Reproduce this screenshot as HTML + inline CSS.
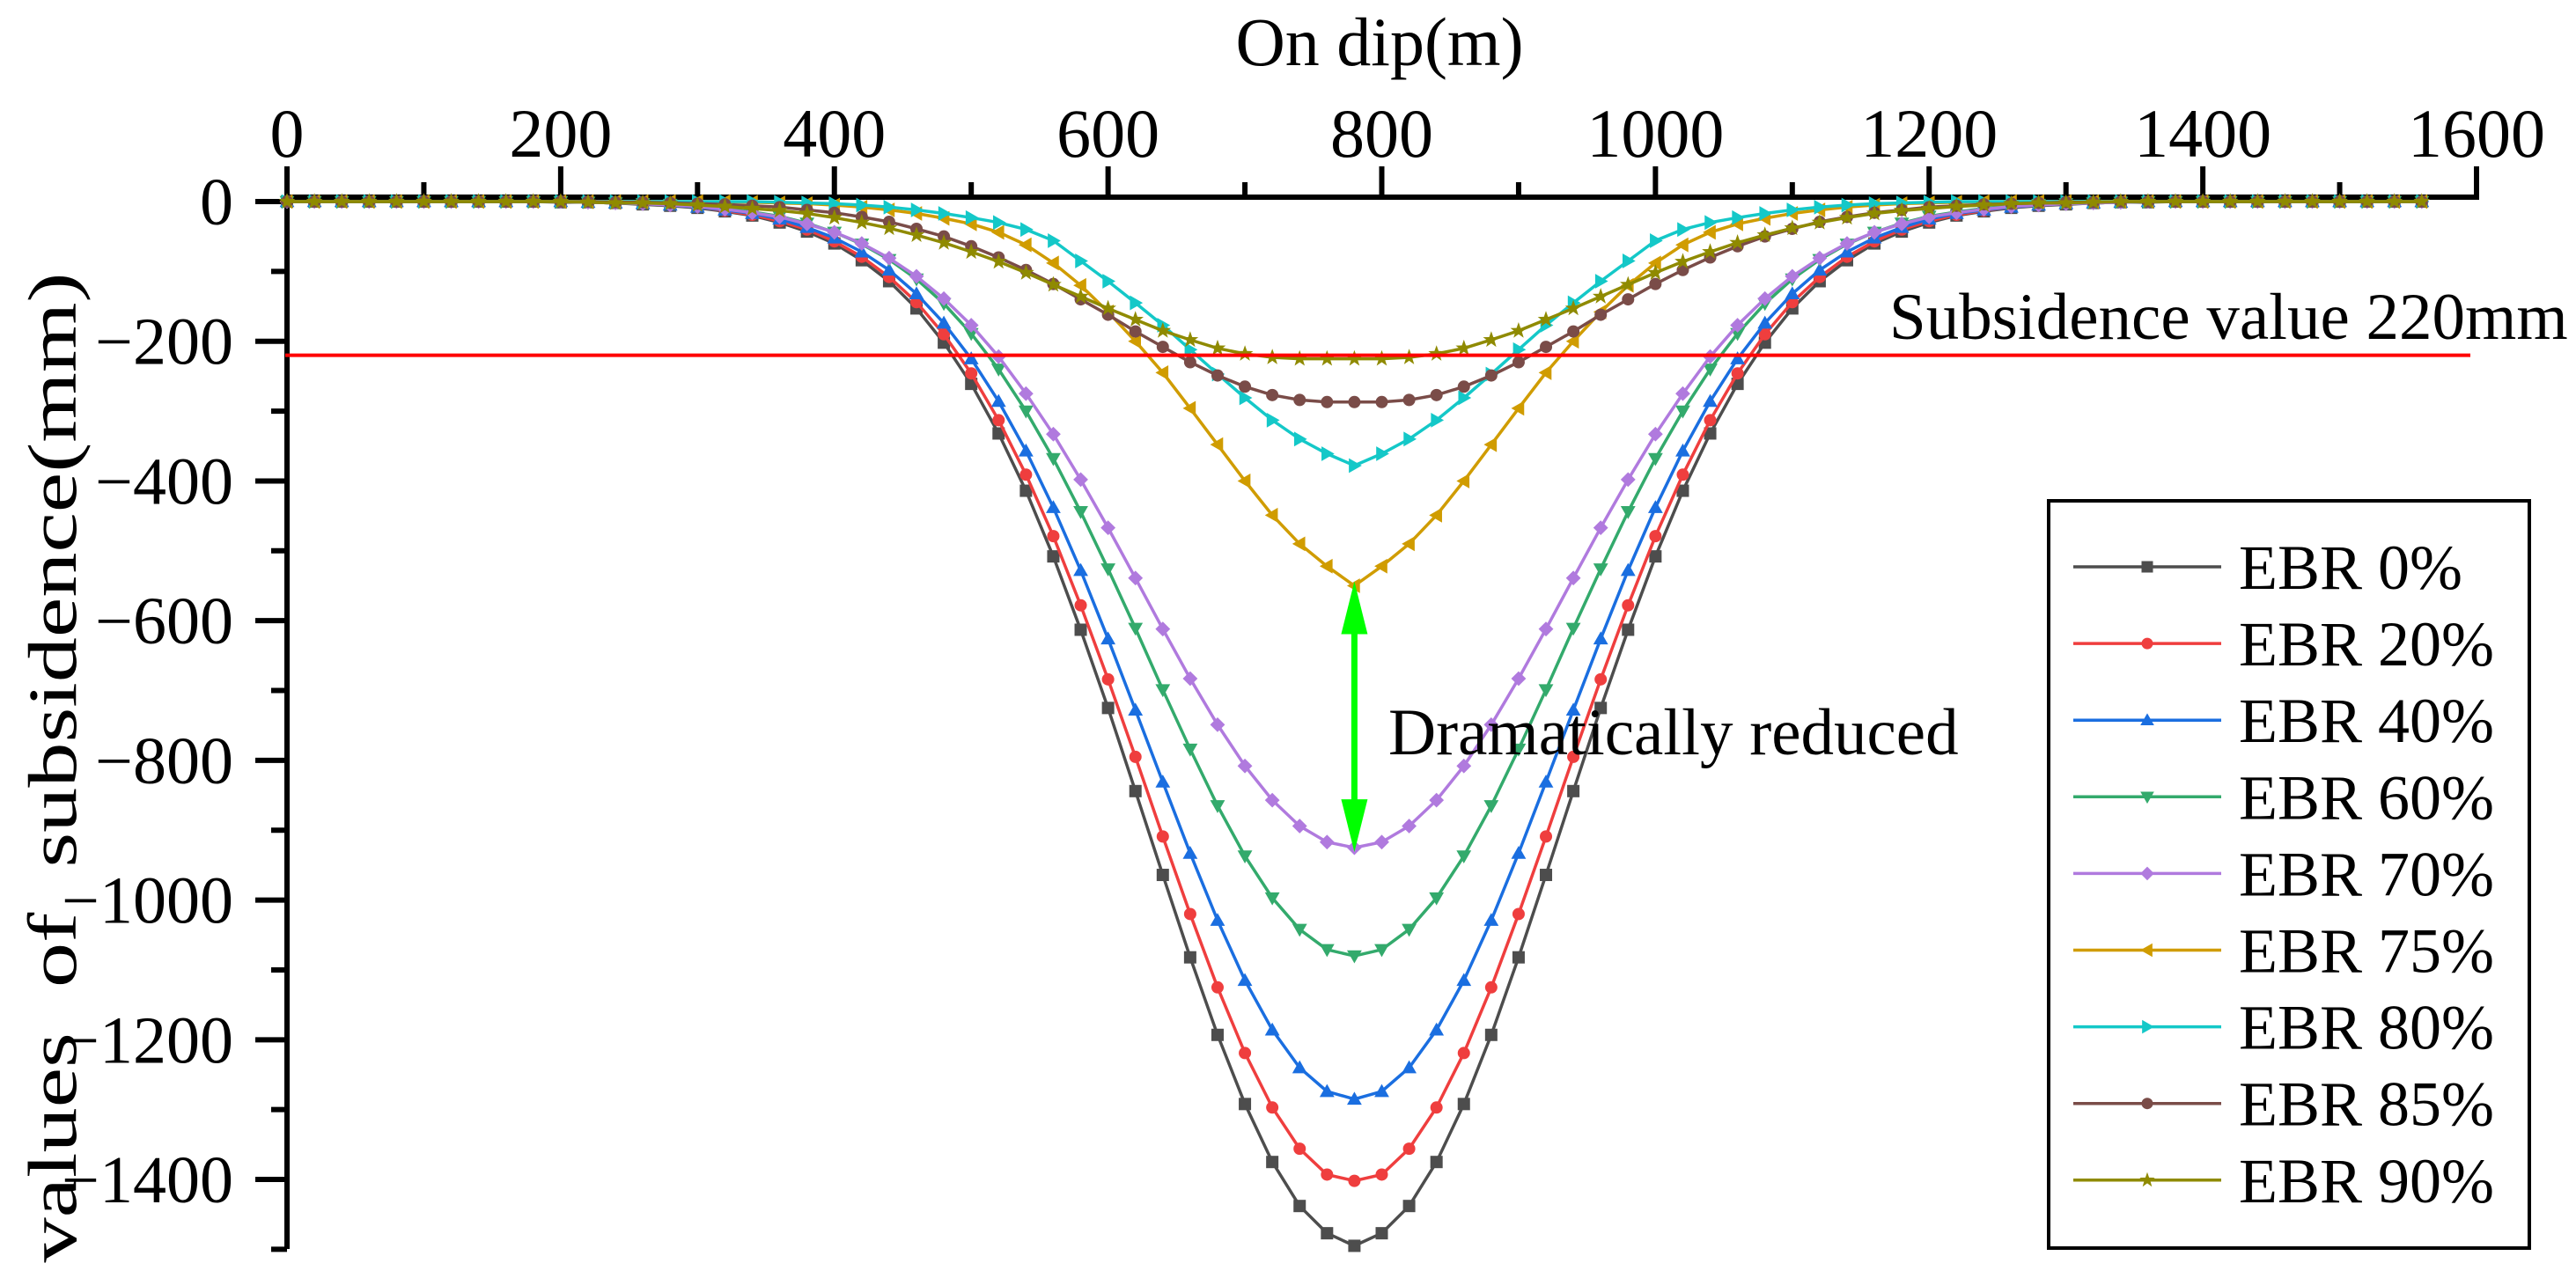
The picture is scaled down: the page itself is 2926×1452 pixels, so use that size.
<!DOCTYPE html>
<html><head><meta charset="utf-8"><style>
html,body{margin:0;padding:0;background:#fff;}
svg{display:block;font-family:"Liberation Serif",serif;}
</style></head><body>
<svg id="chart" width="2926" height="1452" viewBox="0 0 2926 1452" xmlns="http://www.w3.org/2000/svg">
<g id="axes"></g>
<g id="series"></g>
<g id="annot"></g>
<g id="legend"></g>
</svg>
<script>
const xStart = 0, xStep = 20;
const xTicks = [0,200,400,600,800,1000,1200,1400,1600];
const yTicks = [0,-200,-400,-600,-800,-1000,-1200,-1400];
const seriesNames = ["EBR 0%","EBR 20%","EBR 40%","EBR 60%","EBR 70%","EBR 75%","EBR 80%","EBR 85%","EBR 90%"];
const seriesColors = ["#4d4d4d","#ef3e3e","#1a6ee0","#33aa6c","#b07ade","#d09c00","#14c8c8","#7a4c48","#8f8a00"];
const seriesMarkers = ["square","circle","up","down","diamond","left","right","hex","star"];
const ebr0  = [0,0,0,0,0,0,0,0,0,0,-1,-1,-2,-4,-6,-9,-14,-20,-30,-43,-60,-84,-114,-153,-202,-261,-332,-414,-508,-613,-725,-844,-964,-1082,-1193,-1292,-1375,-1438,-1477,-1495,-1477,-1438,-1375,-1292,-1193,-1082,-964,-844,-725,-613,-508,-414,-332,-261,-202,-153,-114,-84,-60,-43,-30,-20,-14,-9,-6,-4,-2,-1,-1,0,0,0,0,0,0,0,0,0,0];
const ebr20 = [0,0,0,0,0,0,0,0,0,0,0,-1,-2,-3,-5,-8,-13,-19,-28,-40,-57,-79,-108,-144,-190,-246,-313,-391,-479,-578,-684,-795,-909,-1020,-1125,-1219,-1297,-1356,-1393,-1402,-1393,-1356,-1297,-1219,-1125,-1020,-909,-795,-684,-578,-479,-391,-313,-246,-190,-144,-108,-79,-57,-40,-28,-19,-13,-8,-5,-3,-2,-1,0,0,0,0,0,0,0,0,0,0,0];
const ebr40 = [0,0,0,0,0,0,0,0,0,0,0,-1,-2,-3,-5,-8,-12,-17,-25,-37,-52,-72,-98,-132,-174,-225,-286,-357,-438,-528,-626,-728,-831,-933,-1029,-1115,-1186,-1240,-1274,-1285,-1274,-1240,-1186,-1115,-1029,-933,-831,-728,-626,-528,-438,-357,-286,-225,-174,-132,-98,-72,-52,-37,-25,-17,-12,-8,-5,-3,-2,-1,0,0,0,0,0,0,0,0,0,0,0];
const ebr60 = [0,0,0,0,0,0,0,0,0,0,0,-1,-2,-3,-4,-6,-10,-15,-21,-31,-44,-61,-83,-111,-146,-189,-240,-300,-368,-444,-526,-611,-699,-784,-865,-937,-997,-1042,-1071,-1080,-1071,-1042,-997,-937,-865,-784,-699,-611,-526,-444,-368,-300,-240,-189,-146,-111,-83,-61,-44,-31,-21,-15,-10,-6,-4,-3,-2,-1,0,0,0,0,0,0,0,0,0,0,0];
const ebr70 = [0,0,0,0,0,0,0,0,0,0,0,-1,-2,-3,-5,-7,-11,-16,-22,-32,-44,-60,-81,-107,-139,-177,-222,-275,-333,-398,-467,-539,-612,-683,-749,-808,-857,-894,-917,-925,-917,-894,-857,-808,-749,-683,-612,-539,-467,-398,-333,-275,-222,-177,-139,-107,-81,-60,-44,-32,-22,-16,-11,-7,-5,-3,-2,-1,0,0,0,0,0,0,0,0,0,0,0];
const ebr75 = [0,0,0,0,0,0,0,0,0,0,0,0,0,0,0,0,0,-1,-2,-3,-5,-8,-12,-17,-24,-32,-44,-62,-88,-120,-158,-200,-245,-296,-348,-400,-449,-490,-522,-550,-522,-490,-449,-400,-348,-296,-245,-200,-158,-120,-88,-62,-44,-32,-24,-17,-12,-8,-5,-3,-2,-1,0,0,0,0,0,0,0,0,0,0,0,0,0,0,0,0,0];
const ebr80 = [0,0,0,0,0,0,0,0,0,0,0,0,0,0,0,0,0,0,-1,-2,-3,-5,-8,-12,-17,-23,-30,-40,-56,-85,-114,-145,-177,-212,-247,-281,-313,-340,-361,-378,-361,-340,-313,-281,-247,-212,-177,-145,-114,-85,-56,-40,-30,-23,-17,-12,-8,-5,-3,-2,-1,0,0,0,0,0,0,0,0,0,0,0,0,0,0,0,0,0,0];
const ebr85 = [0,0,0,0,0,0,0,0,0,0,0,0,-1,-1,-2,-3,-4,-6,-8,-12,-16,-22,-29,-39,-50,-64,-80,-98,-118,-140,-162,-186,-208,-230,-249,-265,-277,-284,-287,-287,-287,-284,-277,-265,-249,-230,-208,-186,-162,-140,-118,-98,-80,-64,-50,-39,-29,-22,-16,-12,-8,-6,-4,-3,-2,-1,-1,0,0,0,0,0,0,0,0,0,0,0,0];
const ebr90 = [0,0,0,0,0,0,0,0,0,0,0,-1,-2,-2,-3,-5,-7,-10,-13,-17,-23,-30,-38,-48,-59,-72,-86,-102,-119,-136,-153,-169,-185,-198,-210,-218,-223,-225,-225,-225,-225,-223,-218,-210,-198,-185,-169,-153,-136,-119,-102,-86,-72,-59,-48,-38,-30,-23,-17,-13,-10,-7,-5,-3,-2,-2,-1,0,0,0,0,0,0,0,0,0,0,0,0];
const seriesValues = [ebr0,ebr20,ebr40,ebr60,ebr70,ebr75,ebr80,ebr85,ebr90];
const thresholdValue = -220;
const arrowFrom = -550, arrowTo = -925, arrowX = 780;

const NS="http://www.w3.org/2000/svg";
const X0=326, X1=2813, XMIN=0, XMAX=1600;
const Y0=229, PERMM=0.7936;
function sx(v){return X0+(v-XMIN)/(XMAX-XMIN)*(X1-X0);}
function sy(v){return Y0-v*PERMM;}
function mk(tag,attrs,parent){const e=document.createElementNS(NS,tag);for(const k in attrs)e.setAttribute(k,attrs[k]);parent.appendChild(e);return e;}
const axes=document.getElementById('axes');
let e=mk('line',{x1:323,y1:224,x2:2816,y2:224,stroke:'#000','stroke-width':6},axes);


e=mk('line',{x1:326,y1:189,x2:326,y2:1419,stroke:'#000','stroke-width':6},axes);


for(let v=0;v<=1600;v+=100){
  const major=v%200===0;
  e=mk('line',{x1:sx(v),y1:major?189:207,x2:sx(v),y2:224,stroke:'#000','stroke-width':6},axes);
  
  
}
xTicks.forEach(v=>{
  e=mk('text',{x:sx(v),y:178,'font-size':78,'text-anchor':'middle'},axes);
  e.textContent=v;
  
  
});
for(let v=0;v>=-1500;v-=100){
  const major=v%200===0;
  e=mk('line',{x1:major?290:308,y1:sy(v),x2:326,y2:sy(v),stroke:'#000','stroke-width':6},axes);
  
  
}
yTicks.forEach(v=>{
  e=mk('text',{x:265,y:sy(v)+26,'font-size':76,'text-anchor':'end'},axes);
  e.textContent=v===0?'0':'\u2212'+Math.abs(v);
  
  
});
e=mk('text',{x:1567,y:74,'font-size':78,'text-anchor':'middle'},axes);
e.textContent='On dip(m)';


e=mk('text',{x:0,y:0,'font-size':78,'text-anchor':'middle',transform:'translate(86,872) rotate(-90)',textLength:1125,lengthAdjust:'spacingAndGlyphs'},axes);
e.textContent='values\u00a0\u00a0of\u00a0\u00a0subsidence(mm)';



function marker(type,x,y,s,color,parent){
  let el;
  if(type==='square') el=mk('rect',{x:x-s/2,y:y-s/2,width:s,height:s,fill:color},parent);
  else if(type==='circle'||type==='hex') el=mk('circle',{cx:x,cy:y,r:s/2,fill:color},parent);
  else if(type==='diamond') el=mk('polygon',{points:`${x},${y-s*0.6} ${x+s*0.6},${y} ${x},${y+s*0.6} ${x-s*0.6},${y}`,fill:color},parent);
  else if(type==='up') el=mk('polygon',{points:`${x},${y-s*0.6} ${x+s*0.6},${y+s*0.45} ${x-s*0.6},${y+s*0.45}`,fill:color},parent);
  else if(type==='down') el=mk('polygon',{points:`${x},${y+s*0.6} ${x+s*0.6},${y-s*0.45} ${x-s*0.6},${y-s*0.45}`,fill:color},parent);
  else if(type==='left') el=mk('polygon',{points:`${x-s*0.6},${y} ${x+s*0.45},${y-s*0.6} ${x+s*0.45},${y+s*0.6}`,fill:color},parent);
  else if(type==='right') el=mk('polygon',{points:`${x+s*0.6},${y} ${x-s*0.45},${y-s*0.6} ${x-s*0.45},${y+s*0.6}`,fill:color},parent);
  else {let p=[];for(let i=0;i<10;i++){const r=i%2?s*0.28:s*0.7;const a=-Math.PI/2+i*Math.PI/5;p.push((x+r*Math.cos(a)).toFixed(1)+','+(y+r*Math.sin(a)).toFixed(1));}
    el=mk('polygon',{points:p.join(' '),fill:color},parent);}
  return el;
}
const sg=document.getElementById('series');
seriesValues.forEach((vals,i)=>{
  const g=mk('g',{},sg);
  
  
  const pts=vals.map((v,j)=>sx(xStart+j*xStep).toFixed(1)+','+sy(v).toFixed(1)).join(' ');
  const pl=mk('polyline',{points:pts,fill:'none',stroke:seriesColors[i],'stroke-width':3.5},g);
  
  
  vals.forEach((v,j)=>{
    const m=marker(seriesMarkers[i],sx(xStart+j*xStep),sy(v),14,seriesColors[i],g);
    
    
  });
});
const an=document.getElementById('annot');
e=mk('line',{x1:324,y1:sy(thresholdValue),x2:2806,y2:sy(thresholdValue),stroke:'#ff0000','stroke-width':4},an);


e=mk('text',{x:2146,y:385,'font-size':75},an);
e.textContent='Subsidence value 220mm';


const ax=sx(arrowX), ay1=sy(arrowFrom), ay2=sy(arrowTo);
e=mk('line',{x1:ax,y1:ay1+50,x2:ax,y2:ay2-50,stroke:'#00ff00','stroke-width':7},an);


e=mk('polygon',{points:`${ax},${ay1-5} ${ax+15},${ay1+55} ${ax-15},${ay1+55}`,fill:'#00ff00'},an);


e=mk('polygon',{points:`${ax},${ay2+5} ${ax+15},${ay2-55} ${ax-15},${ay2-55}`,fill:'#00ff00'},an);


e=mk('text',{x:1577,y:857,'font-size':75},an);
e.textContent='Dramatically reduced';



const lg=document.getElementById('legend');
e=mk('rect',{x:2327,y:569,width:546,height:849,fill:'#fff',stroke:'#000','stroke-width':4},lg);


seriesNames.forEach((n,i)=>{
  const y=644+i*87.1;
  const g=mk('g',{},lg);
  
  
  mk('line',{x1:2355,y1:y,x2:2523,y2:y,stroke:seriesColors[i],'stroke-width':3.5},g);
  marker(seriesMarkers[i],2439,y,13,seriesColors[i],g);
  const t=mk('text',{x:2543,y:y+25,'font-size':72},g);
  t.textContent=n;
});
</script>
</body></html>
